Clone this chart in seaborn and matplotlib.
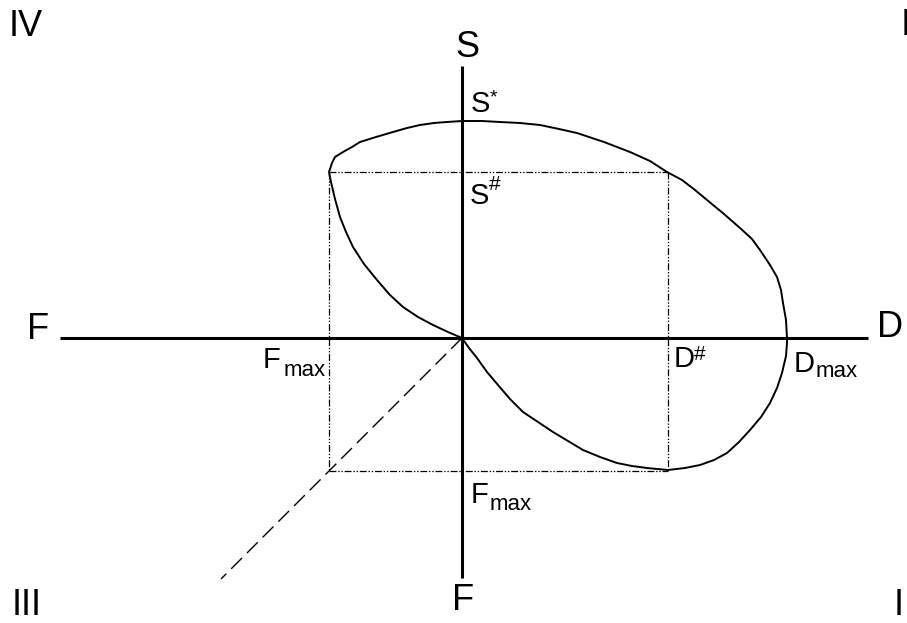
import matplotlib
matplotlib.use("Agg")
import matplotlib.pyplot as plt
import seaborn as sns
import pandas as pd

# Key levels on the D / S / F axes (origin at the crossing)
D_SHARP = 206
D_MAX = 325
S_SHARP = 166
S_STAR = 217
F_MAX = -133          # same magnitude on the left and the lower F axis

# Extent of the drawn axes
AXIS_D = 406
AXIS_F_LEFT = -402
AXIS_S = 272
AXIS_F_DOWN = -240
DIAG_END = -241

# Closed loop: origin -> upper-left lobe -> top arc -> D_max -> bottom -> origin
loop_x = [0, -14, -29, -44, -59, -72, -85, -98, -109, -116, -122, -127, -131, -133,
          -130, -127, -119, -110, -102, -86, -69, -55, -42, -28, -15, 0,
          20, 38, 58, 78, 97, 115, 142, 168, 188, 205,
          220, 233, 245, 262, 278, 290, 298, 308, 315, 319, 321, 324, 325,
          325, 324, 320, 315, 308, 299, 288, 277, 265, 252, 238, 223, 206,
          185, 170, 155, 138, 121, 106, 91, 76, 61, 48, 36, 25, 15, 7, 0]
loop_y = [0, 6, 13, 21, 31, 43, 58, 74, 91, 106, 121, 139, 156, 166,
          175, 181, 186, 191, 196, 201, 206, 210, 213, 215, 216, 217,
          217, 216, 215, 213, 209, 205, 196, 186, 177, 166,
          158, 148, 138, 124, 110, 99, 88, 73, 61, 48, 35, 18, 0,
          -5, -18, -35, -50, -65, -79, -92, -104, -115, -122, -127, -130, -132,
          -130, -128, -125, -119, -112, -103, -94, -84, -74, -61, -47, -34, -20, -10, 0]

loop = pd.DataFrame({"x": loop_x, "y": loop_y})

sns.set_theme(style="white")
plt.rcParams["font.family"] = ["Liberation Sans", "DejaVu Sans"]
plt.rcParams["lines.scale_dashes"] = False

fig = plt.figure(figsize=(9.07, 6.23), dpi=100)
ax = fig.add_axes([0, 0, 1, 1])
ax.set_xlim(-462, 445)
ax.set_ylim(-285, 338)
ax.set_axis_off()

# Main axes
ax.plot([AXIS_F_LEFT, AXIS_D], [0, 0], color="black", lw=2.2, solid_capstyle="butt", zorder=3)
ax.plot([0, 0], [AXIS_F_DOWN, AXIS_S], color="black", lw=2.2, solid_capstyle="butt", zorder=3)

# Dash-dot-dot construction rectangle
dd = (0, (5, 1.3, 1, 1.3, 1, 1.3))
ax.plot([F_MAX, D_SHARP], [S_SHARP, S_SHARP], color="black", lw=0.9, ls=dd)
ax.plot([F_MAX, D_SHARP], [F_MAX, F_MAX], color="black", lw=0.9, ls=dd)
ax.plot([F_MAX, F_MAX], [S_SHARP, F_MAX], color="black", lw=0.9, ls=dd)
ax.plot([D_SHARP, D_SHARP], [S_SHARP, F_MAX], color="black", lw=0.9, ls=dd)

# 45-degree dashed line into quadrant III
ax.plot([0, DIAG_END], [0, DIAG_END], color="black", lw=1.0, ls=(0, (11, 5)))

# The loop
sns.lineplot(data=loop, x="x", y="y", sort=False, estimator=None,
             color="black", lw=1.4, ax=ax, zorder=4)

big = 26
mid = 21
sub = 16
sup = 14

def txt(x, y, s, size, ha="left"):
    ax.text(x, y, s, fontsize=size, ha=ha, va="baseline", color="black")

# Quadrant numerals and axis names
txt(-453, 302, "IV", big)
txt(439, 303, "I", big)
txt(-450, -277, "III", big)
txt(432, -277, "I", big)
txt(5, 281, "S", big, ha="center")
txt(-424, -1, "F", big, ha="center")
txt(428, 1, "D", big, ha="center")
txt(1, -272, "F", big, ha="center")

# S* and S#
txt(9, S_STAR + 9, "S", mid)
txt(28, S_STAR + 19, "*", sup)
txt(8, S_SHARP - 32, "S", mid)
txt(27, S_SHARP - 18, "#", 15)

# D# and Dmax
txt(D_SHARP + 6, -29, "D", mid)
txt(D_SHARP + 26, -22, "#", 15)
txt(D_MAX + 7, -34, "D", mid)
txt(D_MAX + 29, -39, "max", sub)

# Fmax labels
txt(F_MAX - 66, -30, "F", mid)
txt(F_MAX - 45, -38, "max", sub)
txt(9, F_MAX - 32, "F", mid)
txt(28, F_MAX - 39, "max", sub)

fig.savefig("out.png", dpi=100, facecolor="white")
